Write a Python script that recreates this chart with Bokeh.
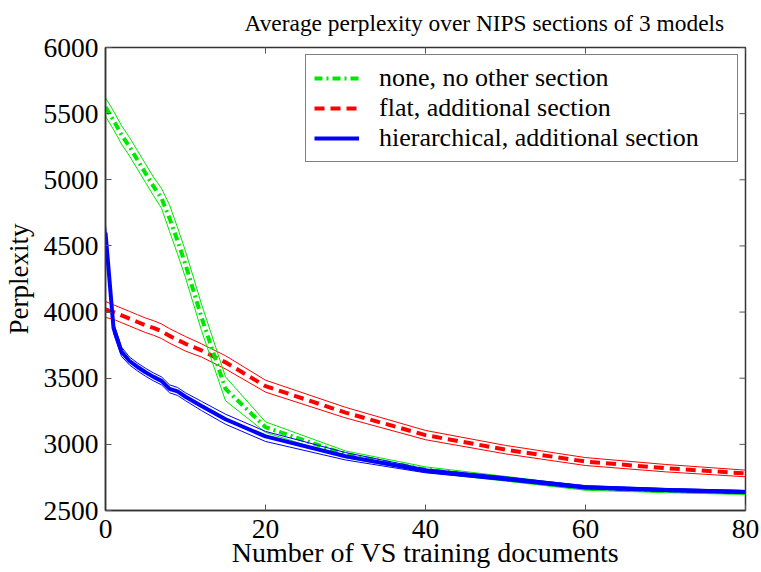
import math
from bokeh.plotting import figure
from bokeh.models import Range1d, Legend, LegendItem, FixedTicker
from bokeh.embed import file_html
from bokeh.resources import INLINE

# ---- data ----
x_docs = [0, 1, 2, 3, 4, 5, 6, 7, 8, 9, 10, 12, 15, 20, 30, 40, 50, 60, 70, 80]

none_mean = [5550, 5450, 5340, 5250, 5150, 5050, 4950, 4860, 4710, 4540, 4360, 3960, 3420, 3130, 2925, 2810, 2740, 2668, 2650, 2636]
none_err = [70, 70, 70, 70, 70, 70, 70, 75, 100, 100, 100, 100, 90, 40, 25, 20, 18, 15, 15, 15]

flat_mean = [4020, 4000, 3975, 3950, 3925, 3900, 3880, 3855, 3820, 3790, 3760, 3710, 3620, 3440, 3240, 3070, 2960, 2870, 2820, 2780]
flat_err = [60, 55, 55, 55, 55, 55, 55, 55, 55, 55, 55, 50, 50, 45, 40, 35, 32, 30, 28, 25]

hier_mean = [4600, 3880, 3700, 3630, 3585, 3545, 3510, 3480, 3420, 3400, 3360, 3290, 3190, 3060, 2910, 2800, 2740, 2675, 2655, 2640]
hier_err = [60, 40, 35, 30, 30, 30, 30, 30, 30, 30, 30, 35, 38, 38, 28, 15, 14, 13, 12, 12]

x_ticks = [0, 20, 40, 60, 80]
y_ticks = [2500, 3000, 3500, 4000, 4500, 5000, 5500, 6000]

series_names = ["none, no other section", "flat, additional section", "hierarchical, additional section"]

FONT = "Liberation Serif"

p = figure(width=761, height=570, output_backend="svg", toolbar_location=None,
           x_range=Range1d(0, 80), y_range=Range1d(2500, 6000),
           min_border_left=104, min_border_right=16, min_border_top=47, min_border_bottom=59)

p.title.text = "Average perplexity over NIPS sections of 3 models"
p.title.align = "left"
p.title.offset = 139
p.title.text_font = FONT
p.title.text_font_size = "23.4px"
p.title.text_font_style = "normal"
p.title.text_color = "black"
p.title.standoff = 19
p.title.vertical_align = "top"

p.xgrid.visible = False
p.ygrid.visible = False
p.outline_line_color = "#333333"
p.outline_line_width = 1.5
p.background_fill_color = "white"
p.border_fill_color = "white"

for ax in p.xaxis + p.yaxis:
    ax.major_label_text_font = FONT
    ax.major_label_text_font_size = "27.5px"
    ax.major_label_text_color = "black"
    ax.axis_label_text_font = FONT
    ax.axis_label_text_font_size = "28px"
    ax.axis_label_text_font_style = "normal"
    ax.axis_label_text_color = "black"
    ax.major_tick_in = 6
    ax.major_tick_out = 0
    ax.minor_tick_line_color = None
    ax.axis_line_color = "#333333"
    ax.axis_line_width = 1.5
    ax.major_tick_line_color = "#555555"

p.yaxis.axis_label_text_font_size = "27px"
p.xaxis.ticker = FixedTicker(ticks=x_ticks)
p.yaxis.ticker = FixedTicker(ticks=y_ticks)
p.xaxis.axis_label = "Number of VS training documents"
p.yaxis.axis_label = "Perplexity"
p.xaxis.major_label_standoff = 9
p.xaxis.axis_label_standoff = -4
p.yaxis.major_label_standoff = 7
p.yaxis.axis_label_standoff = 7

# box ticks on the top and right edges (half of each dash is clipped by the frame)
p.scatter([80] * len(y_ticks), y_ticks, marker="dash", size=12, line_color="#555555", line_width=1)
p.scatter(x_ticks, [6000] * len(x_ticks), marker="dash", size=12, angle=math.pi / 2,
          line_color="#555555", line_width=1)

def band(mean, err, sign):
    return [m + sign * e for m, e in zip(mean, err)]

green, red, blue = "#00e600", "#ff0000", "#0000ff"
styles = {
    "none": (none_mean, none_err, green, "8 4 2 4"),
    "flat": (flat_mean, flat_err, red, "10 6"),
    "hier": (hier_mean, hier_err, blue, "solid"),
}

rmap = {}
for key in ["flat", "none", "hier"]:
    mean, err, color, dash = styles[key]
    p.line(x_docs, band(mean, err, 1), line_color=color, line_width=1)
    p.line(x_docs, band(mean, err, -1), line_color=color, line_width=1)
    rmap[key] = p.line(x_docs, mean, line_color=color, line_width=4, line_dash=dash)

items = [
    LegendItem(label=series_names[0], renderers=[rmap["none"]]),
    LegendItem(label=series_names[1], renderers=[rmap["flat"]]),
    LegendItem(label=series_names[2], renderers=[rmap["hier"]]),
]
legend = Legend(items=items, location="top_right")
legend.label_text_font = FONT
legend.label_text_font_size = "26px"
legend.label_text_color = "black"
legend.glyph_width = 45
legend.glyph_height = 24
legend.label_height = 24
legend.label_width = 350
legend.label_standoff = 20
legend.spacing = 0
legend.padding = 8
legend.margin = 7
legend.border_line_color = "black"
legend.border_line_width = 1
legend.background_fill_color = "white"
legend.background_fill_alpha = 1
p.add_layout(legend)

open("out.html", "w").write(file_html(p, INLINE))
